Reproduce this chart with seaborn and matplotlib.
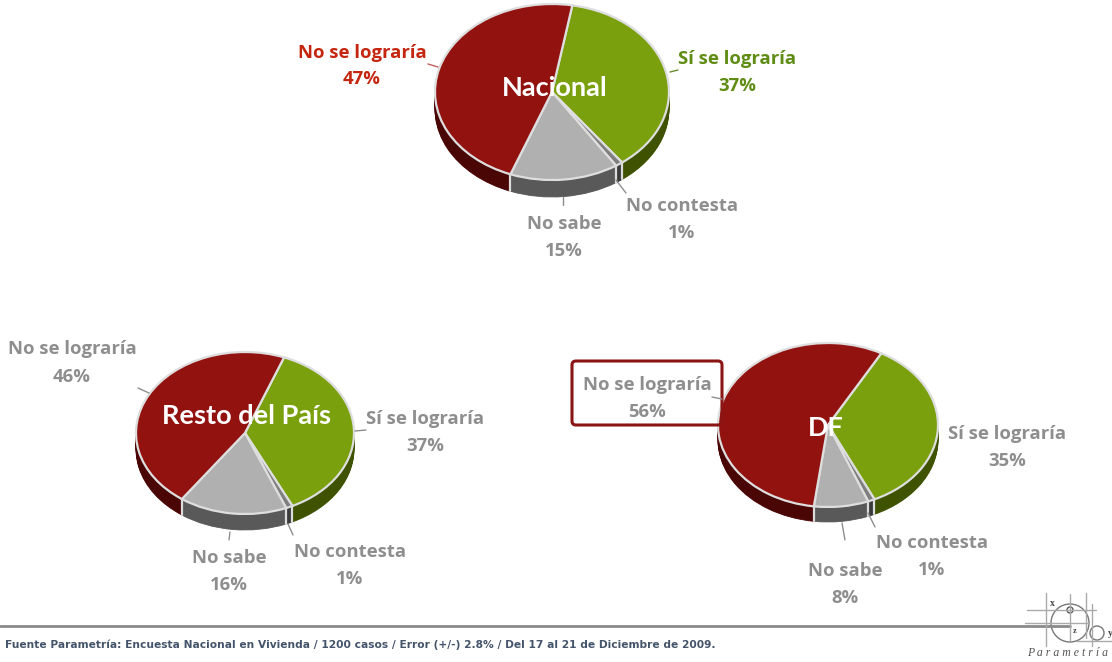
import numpy as np
import matplotlib
matplotlib.use('Agg')
import matplotlib.pyplot as plt
from matplotlib.patches import FancyBboxPatch, Circle
import seaborn as sns

# Datos
categorias = ['Sí se lograría', 'No contesta', 'No sabe', 'No se lograría']
nacional = [37, 1, 15, 47]
resto = [37, 1, 16, 46]
df_vals = [35, 1, 8, 56]
titulos = ['Nacional', 'Resto del País', 'DF']
fuente = 'Fuente Parametría: Encuesta Nacional en Vivienda / 1200 casos / Error (+/-) 2.8% / Del 17 al 21 de Diciembre de 2009.'

sns.set_theme(style='white')
colores = sns.color_palette(['#7aa00e', '#7f7f7f', '#b0b0b0', '#92120f'])
colores_lado = sns.color_palette(['#3e5200', '#3a3a3a', '#595959', '#4a0505'])
GRIS = '#8e8e8e'
ROJO = '#c4260f'
VERDE = '#5f8c14'
FUENTE = 'Open Sans'

W, H = 1112, 662
fig = plt.figure(figsize=(W / 100, H / 100), dpi=100, facecolor='white')


def pastel(valores, cx, cy, rx, ry, prof, inicio):
    # un eje por pastel, sin aspecto igual para que quede eliptico
    ax = fig.add_axes([(cx - rx) / W, 1 - (cy + ry + prof) / H, 2 * rx / W, (2 * ry + prof) / H])
    d = prof / ry
    for i in range(prof, 0, -1):
        ax.pie(valores, startangle=inicio, counterclock=False, colors=colores_lado, radius=1,
               center=(0, -i / ry), wedgeprops={'linewidth': 0.6, 'clip_on': False})
        for w, c in zip(ax.patches[-4:], colores_lado):
            w.set_edgecolor(c)
    # separaciones claras en el costado
    ang = np.radians(inicio - np.cumsum(valores) * 3.6)
    for a in ang:
        if np.sin(a) < 0:
            ax.plot([np.cos(a)] * 2, [np.sin(a), np.sin(a) - d], color='#dcdcdc', lw=1.6, clip_on=False)
    ax.pie(valores, startangle=inicio, counterclock=False, colors=colores, radius=1,
           wedgeprops={'linewidth': 1.6, 'edgecolor': '#dedede', 'clip_on': False})
    ax.set_aspect('auto')
    ax.set_xlim(-1, 1)
    ax.set_ylim(-1 - d, 1)
    ax.axis('off')
    return ax


pastel(nacional, 552, 92, 117, 88, 17, 80)
pastel(resto, 245, 433, 109, 81, 16, 69)
pastel(df_vals, 828, 425, 110, 82, 15, 61)

# capa de textos en pixeles
capa = fig.add_axes([0, 0, 1, 1], zorder=5)
capa.set_xlim(0, W)
capa.set_ylim(H, 0)
capa.axis('off')
capa.patch.set_alpha(0)


def etiqueta(cat, val, x, y1, y2, color=GRIS):
    capa.text(x, y1, cat, color=color, ha='center', va='center', fontsize=13.3, fontweight='bold', family=FUENTE)
    capa.text(x, y2, f'{val}%', color=color, ha='center', va='center', fontsize=13.3, fontweight='bold', family=FUENTE)


# Nacional
etiqueta(categorias[3], nacional[3], 362, 53, 79, ROJO)
etiqueta(categorias[0], nacional[0], 737, 59, 86, VERDE)
etiqueta(categorias[2], nacional[2], 564, 224, 251)
etiqueta(categorias[1], nacional[1], 682, 206, 233)
# Resto del Pais
etiqueta(categorias[3], resto[3], 72, 349, 377)
etiqueta(categorias[0], resto[0], 425, 419, 446)
etiqueta(categorias[2], resto[2], 229, 558, 585)
etiqueta(categorias[1], resto[1], 350, 552, 579)
# DF
etiqueta(categorias[3], df_vals[3], 647, 385, 412)
etiqueta(categorias[0], df_vals[0], 1007, 434, 461)
etiqueta(categorias[2], df_vals[2], 845, 571, 598)
etiqueta(categorias[1], df_vals[1], 932, 543, 570)

# lineas guia
guias = [((428, 64), (438, 67), '#c06060'), ((670, 72), (678, 70), '#6b8a30'), ((563, 197), (563, 205), GRIS),
         ((616, 180), (626, 193), GRIS), ((138, 388), (149, 393), GRIS), ((355, 431), (366, 430), GRIS),
         ((230, 532), (229, 540), GRIS), ((288, 524), (293, 535), GRIS), ((712, 397), (722, 399), GRIS),
         ((842, 523), (845, 540), GRIS), ((868, 513), (875, 527), GRIS)]
for a, b, c in guias:
    capa.plot([a[0], b[0]], [a[1], b[1]], color=c, lw=1)

# titulos sobre los pasteles
capa.text(555, 88, titulos[0], color='white', ha='center', va='center', fontsize=19.5, fontweight='bold', family='Lato')
capa.text(247, 416, titulos[1], color='white', ha='center', va='center', fontsize=19.5, fontweight='bold', family='Lato')
capa.text(826, 428, titulos[2], color='white', ha='center', va='center', fontsize=19.5, fontweight='bold', family='Lato')

# recuadro DF
capa.add_patch(FancyBboxPatch((572, 361), 150, 64, boxstyle='round,pad=0,rounding_size=4', fill=False,
                              edgecolor='#8b1414', lw=2.2))

# pie de pagina
capa.plot([0, 1070], [626, 626], color='#8a8a8a', lw=2)
capa.text(5, 645, fuente, color='#44546a', ha='left', va='center', fontsize=7.65, fontweight='bold', family='DejaVu Sans')

# logo
for x, y0, y1 in [(1046, 593, 646), (1070, 594, 640), (1086, 593, 638), (1092, 604, 646)]:
    capa.plot([x, x], [y0, y1], color='#aaaaaa', lw=1)
for y, x0, x1 in [(610, 1027, 1096), (623, 1025, 1088), (641, 1077, 1112)]:
    capa.plot([x0, x1], [y, y], color='#aaaaaa', lw=1)
capa.add_patch(Circle((1070, 623), 19, fill=False, edgecolor='#777777', lw=1))
capa.add_patch(Circle((1097, 633), 7, fill=False, edgecolor='#777777', lw=1))
capa.add_patch(Circle((1070, 610), 3, fill=False, edgecolor='#555555', lw=1))
capa.text(1052, 603, 'x', color='#444444', ha='center', va='center', fontsize=7, fontweight='bold', family='Liberation Serif')
capa.text(1075, 631, 'z', color='#444444', ha='center', va='center', fontsize=6, fontweight='bold', family='Liberation Serif')
capa.text(1110, 634, 'y', color='#444444', ha='center', va='center', fontsize=7, fontweight='bold', family='Liberation Serif')
capa.text(1027, 653, 'P a r a m e t r í a', color='#555555', ha='left', va='center', fontsize=8.5,
          style='italic', family='Liberation Serif')

fig.savefig('out.png', dpi=100)
